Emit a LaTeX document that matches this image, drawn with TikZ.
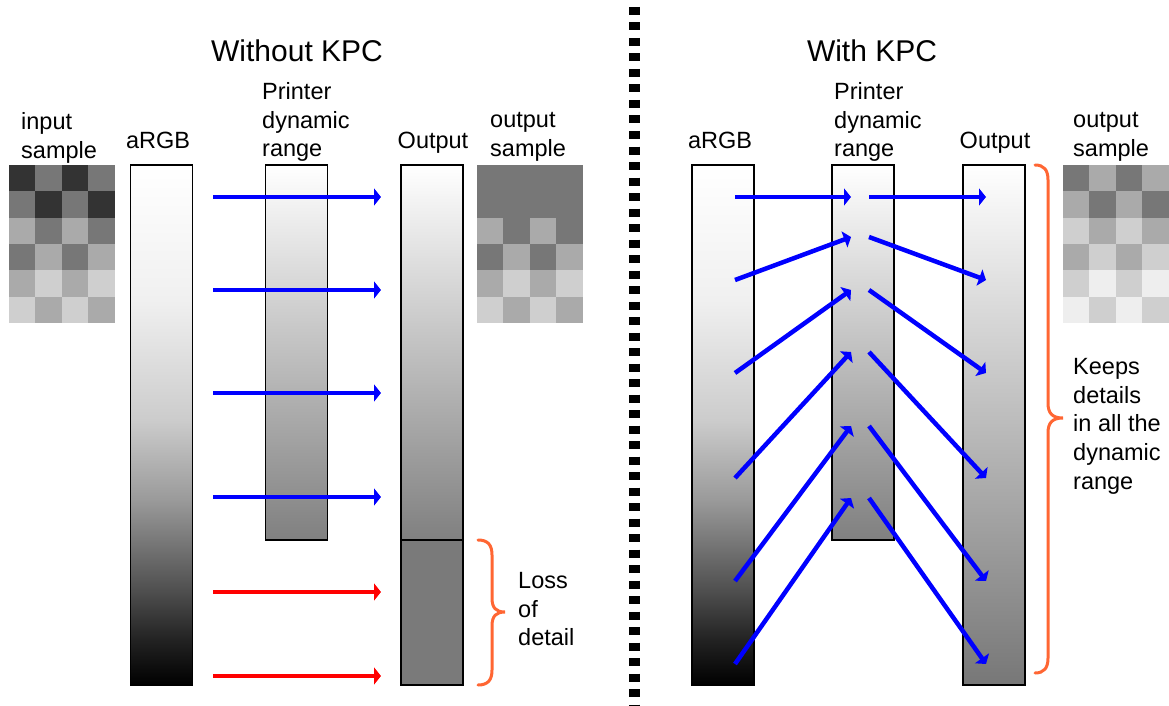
\documentclass[tikz,border=0pt]{standalone}
\usepackage{fontspec}
\setmainfont{Liberation Sans}
\usetikzlibrary{arrows.meta}
\definecolor{kblue}{RGB}{0,0,255}
\definecolor{kred}{RGB}{255,0,0}
\definecolor{korange}{RGB}{255,102,51}
\definecolor{g0}{HTML}{333333}
\definecolor{g1}{HTML}{777777}
\definecolor{g2}{HTML}{AAAAAA}
\definecolor{g3}{HTML}{CFCFCF}
\definecolor{g4}{HTML}{EEEEEE}
\definecolor{gdark}{HTML}{7A7A7A}
\definecolor{gbot}{HTML}{808080}
\definecolor{gmid}{HTML}{C4C4C4}
\definecolor{a1}{HTML}{222222}
\definecolor{a2}{HTML}{505050}
\definecolor{a3}{HTML}{9A9A9A}
\definecolor{a4}{HTML}{CCCCCC}
\definecolor{a5}{HTML}{F0F0F0}
\pgfdeclareverticalshading{argbshade}{100bp}{color(0bp)=(black); color(25bp)=(black); color(29.3bp)=(a1); color(34.2bp)=(a2); color(42.8bp)=(a3); color(50.5bp)=(a4); color(62bp)=(a5); color(75bp)=(white); color(100bp)=(white)}
\newcommand\samplegrid[2]{%
  \foreach \v [count=\i from 0] in {#2} {%
    \pgfmathtruncatemacro\gcol{mod(\i,4)}%
    \pgfmathtruncatemacro\grow{int(\i/4)}%
    \fill[g\v] ({#1+\gcol*26.4},{165+\grow*26.3}) rectangle ++(26.4,26.3);
  }}
\tikzset{
  bar/.style={draw=black, line width=1.5pt, minimum width=62pt, inner sep=0pt, outer sep=0pt},
  flow/.style={line width=4.5pt, -{Triangle[length=7pt,width=17pt]}},
  lbl/.style={font=\fontsize{23.5}{28.8}\selectfont, inner sep=0pt, align=left},
  ttl/.style={font=\fontsize{30}{36}\selectfont, inner sep=0pt},
  brc/.style={draw=korange, line width=3pt, line cap=round},
}
\begin{document}
\begin{tikzpicture}[x=1pt,y=-1pt]
\useasboundingbox (0,0) rectangle (1169,706);
% titles
\node[ttl, anchor=base] (tL) at (297,62) {Without KPC};
\node[ttl, anchor=base] (tR) at (872,62) {With KPC};
% separator
\coordinate (sepT) at (634.5,7);
\coordinate (sepB) at (634.5,706);
\draw[line width=11pt, dash pattern=on 8pt off 7.5pt] (sepT) -- (sepB);
% sample grids
\samplegrid{9}{0,1,0,1, 1,0,1,0, 2,1,2,1, 1,2,1,2, 2,3,2,3, 3,2,3,2}
\samplegrid{477}{1,1,1,1, 1,1,1,1, 2,1,2,1, 1,2,1,2, 2,3,2,3, 3,2,3,2}
\samplegrid{1063}{1,2,1,2, 2,1,2,1, 3,2,3,2, 2,3,2,3, 3,4,3,4, 4,3,4,3}
% labels left
\node[lbl, anchor=north west] (inS) at (21,112) {input\\sample};
\node[lbl, anchor=base] (argbLt) at (158,148) {aRGB};
\node[lbl, anchor=north west] (prLt) at (262,82) {Printer\\dynamic\\range};
\node[lbl, anchor=base] (outLt) at (433,148) {Output};
\node[lbl, anchor=north west] (osL) at (490,112) {output\\sample};
\node[lbl, anchor=north west] (loss) at (518,572) {Loss\\of\\detail};
% labels right
\node[lbl, anchor=base] (argbRt) at (720,148) {aRGB};
\node[lbl, anchor=north west] (prRt) at (834,82) {Printer\\dynamic\\range};
\node[lbl, anchor=base] (outRt) at (995,148) {Output};
\node[lbl, anchor=north west] (osR) at (1073,112) {output\\sample};
\node[lbl, anchor=north west] (keeps) at (1073,358) {Keeps\\details\\in all the\\dynamic\\range};
% bars left
\node[bar, shade, shading=argbshade, minimum height=520pt] (argbL) at (161.5,425) {};
\node[bar, top color=white, middle color=gmid, bottom color=gbot, minimum height=375pt] (prL) at (296.5,352.5) {};
\node[bar, top color=white, middle color=gmid, bottom color=gbot, minimum height=375pt] (outLa) at (432,352.5) {};
\node[bar, fill=gdark, minimum height=145pt] (outLb) at (432,612.5) {};
% bars right
\node[bar, shade, shading=argbshade, minimum height=520pt] (argbR) at (723,425) {};
\node[bar, top color=white, middle color=gmid, bottom color=gbot, minimum height=375pt] (prR) at (863,352.5) {};
\node[bar, top color=white, bottom color=g1, minimum height=520pt] (outR) at (994,425) {};
% left arrows
\foreach \y [count=\i] in {197,290,393,497} {
  \coordinate (la\i) at (213,\y);
  \coordinate (lb\i) at (381,\y);
  \draw[flow, kblue] (la\i) -- (lb\i);
}
\foreach \y [count=\i] in {592,676} {
  \coordinate (lr\i) at (213,\y);
  \coordinate (ls\i) at (381,\y);
  \draw[flow, kred] (lr\i) -- (ls\i);
}
% right arrows
\foreach \ya/\yb [count=\i] in {197/197, 280/237, 373/290, 478/352, 581/426, 664/498} {
  \coordinate (ra\i) at (735,\ya);
  \coordinate (rb\i) at (851,\yb);
  \coordinate (rc\i) at (869,\yb);
  \coordinate (rd\i) at (986,\ya);
  \draw[flow, kblue] (ra\i) -- (rb\i);
  \draw[flow, kblue] (rc\i) -- (rd\i);
}
% braces
\draw[brc] (478,540) .. controls (488,540) and (492,545) .. (492,555) -- (492,598)
  .. controls (492,608) and (496,612) .. (505,612)
  .. controls (496,612) and (492,616) .. (492,626) -- (492,670)
  .. controls (492,680) and (488,685) .. (478,685);
\draw[brc] (1035,165) .. controls (1044,165) and (1048,170) .. (1048,180) -- (1048,403)
  .. controls (1048,413) and (1052,418) .. (1063,418)
  .. controls (1052,418) and (1048,423) .. (1048,433) -- (1048,658)
  .. controls (1048,668) and (1044,673) .. (1035,673);
\end{tikzpicture}
\end{document}
